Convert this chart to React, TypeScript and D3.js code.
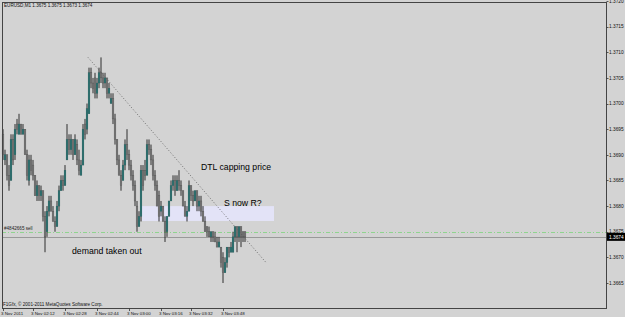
import React from 'react';
import * as d3 from 'd3';

// ---- data (EURUSD M1, 3 Nov 2011) ----
const opens = [
  1.3694,1.3689,1.3690,1.3686,1.3685,1.3693,1.3690,1.3696,1.3694,1.3696,
  1.3694,1.3695,1.3690,1.3685,1.3689,1.3688,1.3686,1.3682,1.3684,1.3682,
  1.3683,1.3678,1.3675,1.3679,1.3681,1.3679,1.3677,1.3676,1.3680,1.3683,
  1.3685,1.3684,1.3689,1.3693,1.3691,1.3693,1.3690,1.3692,1.3689,1.3686,
  1.3688,1.3696,1.3695,1.3698,1.3706,1.3704,1.3705,1.3702,1.3704,1.3706,
  1.3705,1.3704,1.3705,1.3702,1.3700,1.3701,1.3697,1.3693,1.3689,1.3686,
  1.3685,1.3688,1.3692,1.3690,1.3688,1.3686,1.3684,1.3680,1.3676,1.3678,
  1.3687,1.3687,1.3686,1.3692,1.3691,1.3689,1.3686,1.3684,1.3682,1.3679,
  1.3680,1.3677,1.3675,1.3678,1.3681,1.3684,1.3685,1.3683,1.3685,1.3684,
  1.3683,1.3680,1.3678,1.3679,1.3684,1.3682,1.3681,1.3683,1.3680,1.3681,
  1.3679,1.3677,1.3676,1.3675,1.3674,1.3675,1.3674,1.3673,1.3672,1.3672,
  1.3670,1.3667,1.3669,1.3672,1.3671,1.3671,1.3674,1.3676,1.3674,1.3676,
  1.3675,1.3675,
];
const highs = [
  1.3695,1.3691,1.3690,1.3688,1.3694,1.3694,1.3696,1.3697,1.3698,1.3696,
  1.3696,1.3695,1.3691,1.3690,1.3690,1.3689,1.3686,1.3685,1.3684,1.3684,
  1.3683,1.3679,1.3680,1.3682,1.3682,1.3680,1.3678,1.3681,1.3684,1.3686,
  1.3686,1.3688,1.3696,1.3694,1.3694,1.3693,1.3694,1.3693,1.3691,1.3689,
  1.3696,1.3697,1.3700,1.3707,1.3707,1.3705,1.3706,1.3705,1.3707,1.3709,
  1.3706,1.3706,1.3705,1.3704,1.3702,1.3702,1.3698,1.3693,1.3690,1.3687,
  1.3689,1.3693,1.3695,1.3691,1.3689,1.3687,1.3685,1.3681,1.3679,1.3688,
  1.3688,1.3689,1.3693,1.3693,1.3692,1.3690,1.3687,1.3685,1.3683,1.3681,
  1.3680,1.3678,1.3678,1.3681,1.3685,1.3686,1.3686,1.3686,1.3687,1.3685,
  1.3683,1.3681,1.3680,1.3685,1.3684,1.3683,1.3683,1.3683,1.3682,1.3682,
  1.3680,1.3678,1.3676,1.3676,1.3675,1.3675,1.3675,1.3674,1.3674,1.3672,
  1.3671,1.3670,1.3672,1.3672,1.3673,1.3675,1.3676,1.3676,1.3676,1.3676,
  1.3675,1.3675,
];
const lows = [
  1.3689,1.3688,1.3685,1.3683,1.3685,1.3688,1.3689,1.3694,1.3694,1.3694,
  1.3694,1.3690,1.3685,1.3684,1.3686,1.3685,1.3682,1.3681,1.3681,1.3681,
  1.3677,1.3671,1.3674,1.3678,1.3679,1.3677,1.3675,1.3676,1.3679,1.3683,
  1.3683,1.3684,1.3689,1.3690,1.3690,1.3689,1.3690,1.3688,1.3686,1.3686,
  1.3688,1.3693,1.3694,1.3698,1.3703,1.3702,1.3701,1.3701,1.3703,1.3704,
  1.3703,1.3703,1.3701,1.3701,1.3700,1.3696,1.3692,1.3688,1.3686,1.3683,
  1.3685,1.3687,1.3689,1.3687,1.3685,1.3683,1.3680,1.3675,1.3676,1.3677,
  1.3683,1.3685,1.3686,1.3690,1.3688,1.3685,1.3683,1.3680,1.3677,1.3678,
  1.3677,1.3673,1.3674,1.3678,1.3681,1.3683,1.3682,1.3683,1.3683,1.3682,
  1.3680,1.3678,1.3677,1.3679,1.3681,1.3680,1.3681,1.3679,1.3679,1.3678,
  1.3677,1.3675,1.3674,1.3674,1.3673,1.3673,1.3673,1.3672,1.3672,1.3668,
  1.3665,1.3667,1.3668,1.3670,1.3671,1.3671,1.3673,1.3671,1.3673,1.3672,
  1.3673,1.3673,
];
const closes = [
  1.3690,1.3690,1.3686,1.3684,1.3693,1.3689,1.3695,1.3695,1.3696,1.3694,
  1.3695,1.3690,1.3686,1.3689,1.3687,1.3686,1.3682,1.3684,1.3682,1.3683,
  1.3678,1.3674,1.3679,1.3681,1.3679,1.3677,1.3676,1.3680,1.3683,1.3685,
  1.3684,1.3687,1.3693,1.3691,1.3693,1.3690,1.3693,1.3689,1.3687,1.3688,
  1.3695,1.3694,1.3699,1.3706,1.3704,1.3703,1.3702,1.3704,1.3706,1.3705,
  1.3704,1.3705,1.3702,1.3703,1.3701,1.3697,1.3693,1.3689,1.3686,1.3684,
  1.3688,1.3692,1.3690,1.3688,1.3686,1.3684,1.3681,1.3676,1.3678,1.3687,
  1.3684,1.3686,1.3692,1.3691,1.3689,1.3686,1.3684,1.3680,1.3678,1.3680,
  1.3677,1.3675,1.3678,1.3681,1.3684,1.3685,1.3683,1.3685,1.3684,1.3683,
  1.3680,1.3678,1.3679,1.3684,1.3682,1.3681,1.3683,1.3680,1.3681,1.3679,
  1.3677,1.3675,1.3675,1.3674,1.3675,1.3674,1.3673,1.3672,1.3673,1.3669,
  1.3667,1.3669,1.3672,1.3671,1.3672,1.3674,1.3676,1.3674,1.3676,1.3674,
  1.3674,1.3674,
];

const timeLabels = ['3 Nov 2011', '3 Nov 02:12', '3 Nov 02:28', '3 Nov 02:44', '3 Nov 03:00', '3 Nov 03:16', '3 Nov 03:32', '3 Nov 03:48'];
const timeLabelBars = [0, 15, 31, 47, 63, 79, 94, 110];
const priceTicks = [1.372, 1.3715, 1.371, 1.3705, 1.37, 1.3695, 1.369, 1.3685, 1.368, 1.3675, 1.367, 1.3665];

const titleText = 'EURUSD,M1  1.3675 1.3675 1.3673 1.3674';
const copyrightText = 'F1Gfx, \u00a9 2001-2011 MetaQuotes Software Corp.';

const trendBars = [42.5, 131.5];
const trendPrices = [1.3709, 1.3669];

const zoneBars = [69.5, 135.5];
const zonePrices = [1.3680, 1.36771];

const orderPrice = 1.3675;
const orderLabel = '#4842665 sell';
const bidPrice = 1.3674;
const bidLabel = '1.3674';

const noteTexts = ['DTL capping price', 'S now R?', 'demand taken out'];
const noteBars = [99, 110.5, 34.5];
const notePrices = [1.36871, 1.36801, 1.36706];

// ---- layout ----
const W = 625;
const H = 317;
const plotL = 2;
const plotR = 606;
const plotT = 2;
const plotB = 308;

const BG = '#d3d3d3';
const BULL = '#267372';
const BEAR = '#7c7c7c';
const WICK = '#2e2e2e';
const SMALL_FONT = '"Liberation Sans", Arial, sans-serif';

export default function App() {
  const x = d3.scaleLinear().domain([0, 121]).range([3, 245]);
  const y = d3.scaleLinear().domain([1.3665, 1.372]).range([283, 1]);

  const bars = d3.range(opens.length).map((i) => ({
    i,
    o: opens[i],
    h: highs[i],
    l: lows[i],
    c: closes[i],
  }));

  const trendPath = d3.line<number>()
    .x((_, k) => x(trendBars[k]))
    .y((p) => y(p))(trendPrices) as string;

  return (
    <svg
      width={W}
      height={H}
      style={{ position: 'fixed', left: 0, top: 0, display: 'block', background: BG }}
      fontFamily={SMALL_FONT}
    >
      <rect x={0} y={0} width={W} height={H} fill={BG} />

      {/* S/R zone */}
      <rect
        x={x(zoneBars[0])}
        y={y(zonePrices[0])}
        width={x(zoneBars[1]) - x(zoneBars[0])}
        height={y(zonePrices[1]) - y(zonePrices[0])}
        fill="#e3e3f7"
      />

      {/* order level (dash-dot) */}
      <line
        x1={plotL}
        x2={plotR}
        y1={Math.round(y(orderPrice)) + 0.5}
        y2={Math.round(y(orderPrice)) + 0.5}
        stroke="#8fd48f"
        strokeWidth={1}
        strokeDasharray="4,2,1,2"
      />
      <text x={4} y={y(orderPrice) - 2} fontSize={4.6} fill="#222">{orderLabel}</text>

      {/* bid line */}
      <line
        x1={plotL}
        x2={plotR}
        y1={Math.round(y(bidPrice)) + 0.5}
        y2={Math.round(y(bidPrice)) + 0.5}
        stroke="#999"
        strokeWidth={1}
      />

      {/* candles */}
      {bars.map((b) => {
        const cx = x(b.i);
        const bull = b.c > b.o;
        const top = y(Math.max(b.o, b.c));
        const bot = y(Math.min(b.o, b.c));
        const hgt = Math.max(1, bot - top);
        return (
          <g key={b.i}>
            <line x1={cx} x2={cx} y1={y(b.h)} y2={y(b.l)} stroke={WICK} strokeWidth={1} />
            <rect
              x={cx - 0.9}
              y={top}
              width={1.8}
              height={hgt}
              fill={bull ? BULL : BEAR}
              stroke={bull ? '#2c5a59' : '#4a4a4a'}
              strokeWidth={0.3}
            />
          </g>
        );
      })}

      {/* trend line */}
      <path d={trendPath} fill="none" stroke="#555" strokeWidth={0.8} strokeDasharray="1,2" />

      {/* annotations */}
      {noteTexts.map((t, k) => (
        <text
          key={t}
          x={x(noteBars[k])}
          y={y(notePrices[k])}
          fontSize={8.7}
          fontFamily="Arial, 'Liberation Sans', sans-serif"
          fill="#000"
        >
          {t}
        </text>
      ))}

      {/* plot frame */}
      <rect
        x={plotL + 0.5}
        y={plotT + 0.5}
        width={plotR - plotL}
        height={plotB - plotT}
        fill="none"
        stroke="#444"
        strokeWidth={1}
      />

      {/* title & copyright */}
      <text x={4} y={7} fontSize={4.6} fill="#111">{titleText}</text>
      <text x={3} y={305.5} fontSize={4.6} fill="#111">{copyrightText}</text>

      {/* right price axis */}
      {priceTicks.map((p) => (
        <g key={p}>
          <line x1={plotR + 0.5} x2={plotR + 2.5} y1={Math.round(y(p)) + 0.5} y2={Math.round(y(p)) + 0.5} stroke="#333" strokeWidth={0.8} />
          <text x={plotR + 3} y={y(p) + 1.7} fontSize={4.8} fill="#111">{d3.format('.4f')(p)}</text>
        </g>
      ))}
      <rect x={plotR + 1} y={y(bidPrice) - 4} width={W - plotR - 1} height={8} fill="#000" />
      <text x={plotR + 3} y={y(bidPrice) + 1.7} fontSize={4.8} fill="#fff">{bidLabel}</text>

      {/* bottom time axis */}
      {timeLabels.map((t, k) => (
        <g key={t}>
          <line
            x1={Math.round(x(timeLabelBars[k])) + 0.5}
            x2={Math.round(x(timeLabelBars[k])) + 0.5}
            y1={plotB + 0.5}
            y2={plotB + 3}
            stroke="#333"
            strokeWidth={0.8}
          />
          <text x={x(timeLabelBars[k]) - 2} y={314.5} fontSize={4.4} fill="#111">{t}</text>
        </g>
      ))}
    </svg>
  );
}
